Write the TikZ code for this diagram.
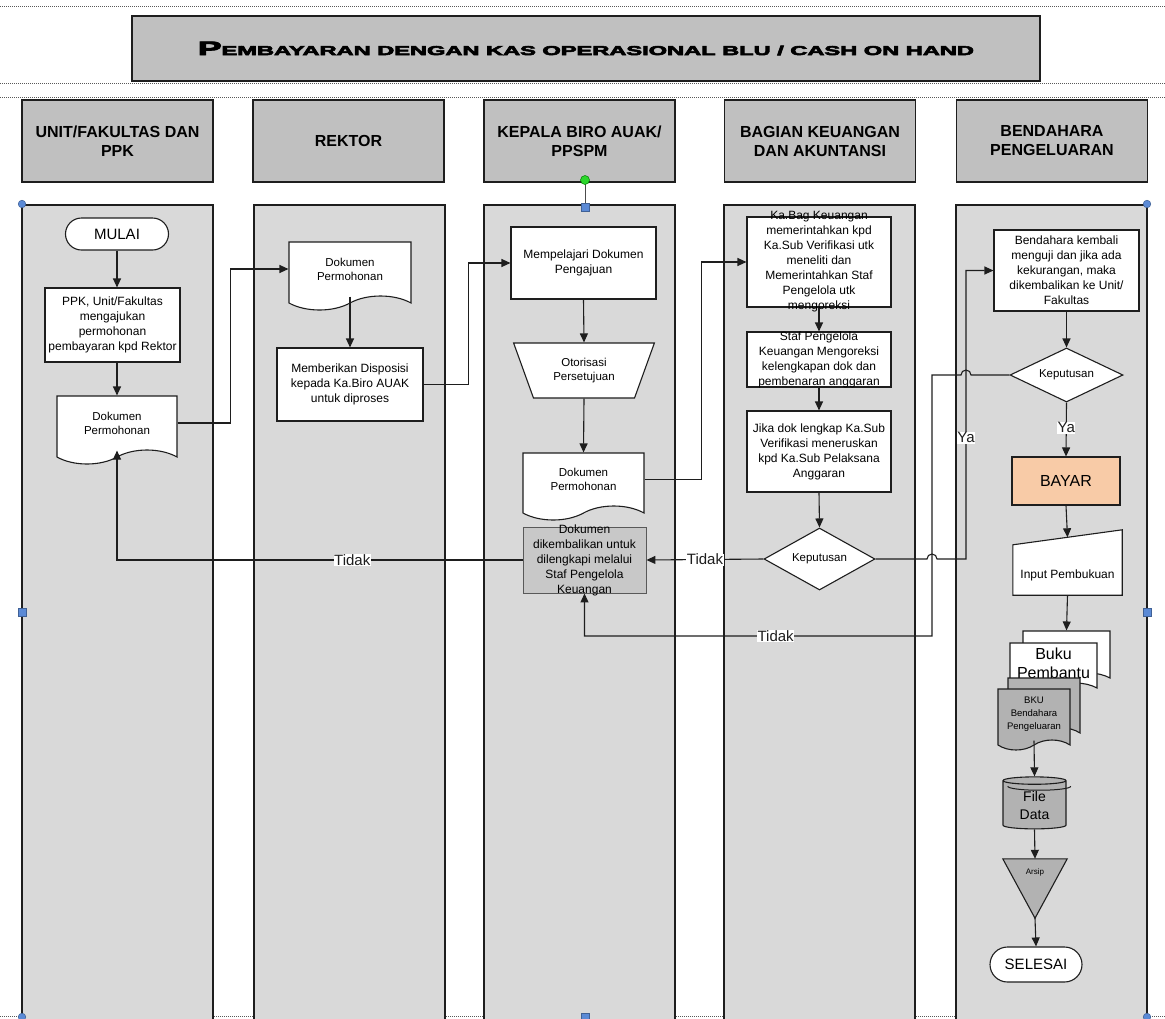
\documentclass[tikz,border=0pt]{standalone}
\usepackage{graphicx}
\usepackage{fontspec}
\setmainfont{Liberation Sans}
\newfontfamily\titlefont{Liberation Sans Bold}[FakeBold=4]
\usetikzlibrary{
  arrows.meta,
  calc,
  positioning,
  shapes.geometric,
  shapes.misc,
  shapes.symbols
}
\definecolor{poolGray}{HTML}{D9D9D9}
\definecolor{headGray}{HTML}{C0C0C0}
\definecolor{symGray}{HTML}{B2B2B2}
\definecolor{bayarPeach}{HTML}{F8CBA7}
\definecolor{handleBlue}{HTML}{5B8AD6}
\definecolor{handleGreen}{HTML}{2BD62B}
\definecolor{lineDark}{HTML}{1E1E1E}
\newcommand{\fsz}[2]{\fontsize{#1}{#2}\selectfont}
\tikzset{
  guideDots/.style={gray!70!black, line width=0.8pt, dash pattern=on 1pt off 1pt},
  titleBox/.style={
    draw=lineDark,
    line width=2pt,
    fill=headGray,
    minimum width=908pt,
    minimum height=65pt,
    inner sep=0pt
  },
  laneHead/.style={
    draw=lineDark,
    line width=1.8pt,
    fill=headGray,
    minimum width=191pt,
    minimum height=82pt,
    align=center,
    font=\bfseries\fsz{16}{19},
    inner sep=0pt
  },
  lanePool/.style={draw=lineDark, line width=1.8pt, fill=poolGray},
  procBox/.style={
    draw=lineDark,
    line width=1.1pt,
    fill=white,
    align=center,
    font=\fsz{12}{15},
    inner sep=1pt
  },
  procText/.style={align=center, font=\fsz{12}{15}, inner sep=0pt},
  docShape/.style={
    tape,
    tape bend top=none,
    tape bend bottom=in and out,
    tape bend height=14pt,
    draw=lineDark,
    line width=1.1pt,
    fill=white,
    align=center,
    font=\fsz{11.5}{14},
    inner sep=1pt
  },
  termShape/.style={
    rounded rectangle,
    draw=lineDark,
    line width=1.1pt,
    fill=white,
    font=\fsz{15}{17},
    inner sep=1pt
  },
  decShape/.style={
    diamond,
    aspect=2,
    draw=lineDark,
    line width=1.1pt,
    fill=white,
    font=\fsz{11.5}{13},
    inner sep=0pt
  },
  ghostBox/.style={draw=none, fill=none, inner sep=0pt},
  flowArrow/.style={-{Triangle[length=9pt, width=8pt]}, line width=1.1pt, lineDark},
  flowLabel/.style={fill=white, inner sep=0.5pt, font=\fsz{15}{17}},
  handleDot/.style={fill=handleBlue, draw=handleBlue!70!black, line width=0.5pt}
}

\begin{document}
\begin{tikzpicture}[x=1pt,y=-1pt]
  \useasboundingbox (0,0) rectangle (1165,1018);
  % dotted guides
  \foreach \y in {6,83,97,1016} {
    \draw[guideDots] (0,\y) -- (1165,\y);
  }

  % title
  \node[titleBox] (judul) at (586,48.5)
    {\resizebox{776pt}{\height}{\titlefont\fsz{19.5}{20}P\fsz{13}{14}EMBAYARAN DENGAN KAS OPERASIONAL BLU / CASH ON HAND}};

  % lane headers
  \node[laneHead] (hUnit) at (117.5,141) {UNIT/FAKULTAS DAN\\PPK};
  \node[laneHead] (hRektor) at (348.5,141) {REKTOR};
  \node[laneHead] (hBiro) at (579.5,141) {KEPALA BIRO AUAK/\\PPSPM};
  \node[laneHead] (hKeu) at (820,141) {BAGIAN KEUANGAN\\DAN AKUNTANSI};
  \node[laneHead] (hBend) at (1052,141) {BENDAHARA\\PENGELUARAN};

  % pools
  \foreach \x in {22,254,484,724,956} {
    \draw[lanePool] (\x,205) rectangle ++(191,830);
  }

  % unit / fakultas
  \node[termShape, minimum width=105pt, minimum height=32pt] (mulai) at (117,234) {MULAI};
  \node[procBox, minimum width=135pt, minimum height=74pt] (ajukan) at (112.5,325)
    {PPK, Unit/Fakultas\\mengajukan\\permohonan\\pembayaran kpd Rektor};
  \node[docShape, minimum width=120pt, minimum height=68pt] (dokUnit) at (117,423) {Dokumen\\Permohonan};

  % rektor
  \node[docShape, minimum width=122pt, minimum height=68pt] (dokRektor) at (350,269) {Dokumen\\Permohonan};
  \node[procBox, minimum width=146pt, minimum height=73pt] (disposisi) at (350,384.5)
    {Memberikan Disposisi\\kepada Ka.Biro AUAK\\untuk diproses};

  % kepala biro
  \node[procBox, minimum width=145pt, minimum height=72pt] (pelajari) at (583.5,263)
    {Mempelajari Dokumen\\Pengajuan};
  \node[trapezium, trapezium left angle=64, trapezium right angle=64, shape border rotate=180,
    trapezium stretches=true, minimum width=142pt, minimum height=55pt,
    draw=lineDark, line width=1.1pt, fill=white, align=center, font=\fsz{11.5}{14}, inner sep=0pt]
    (otorisasi) at (584,370.5) {Otorisasi\\Persetujuan};
  \node[docShape, minimum width=121pt, minimum height=67pt] (dokBiro) at (583.5,479.5) {Dokumen\\Permohonan};
  \node[procBox, draw=gray!70!black, line width=0.9pt, fill=poolGray!92!black,
    minimum width=123pt, minimum height=66pt,
    label={[procText]center:Dokumen\\dikembalikan untuk\\dilengkapi melalui\\Staf Pengelola\\Keuangan}]
    (kembali) at (584.5,560) {};

  % bagian keuangan
  \node[procBox, minimum width=144pt, minimum height=90pt,
    label={[procText]center:Ka.Bag Keuangan\\memerintahkan kpd\\Ka.Sub Verifikasi utk\\meneliti dan\\Memerintahkan Staf\\Pengelola utk\\mengoreksi}]
    (kabag) at (819,262) {};
  \node[procBox, minimum width=144pt, minimum height=55pt,
    label={[procText]center:Staf Pengelola\\Keuangan Mengoreksi\\kelengkapan dok dan\\pembenaran anggaran}]
    (koreksi) at (819,359.5) {};
  \node[procBox, minimum width=144pt, minimum height=81pt] (jika) at (819,451.5)
    {Jika dok lengkap Ka.Sub\\Verifikasi meneruskan\\kpd Ka.Sub Pelaksana\\Anggaran};
  \node[decShape, minimum width=111pt, minimum height=62pt] (kep1) at (819.5,559) {Keputusan};

  % bendahara
  \node[procBox, minimum width=145pt, minimum height=81pt] (kembaliB) at (1066.5,270.5)
    {Bendahara kembali\\menguji dan jika ada\\kekurangan, maka\\dikembalikan ke Unit/\\Fakultas};
  \node[decShape, minimum width=113pt, minimum height=54pt] (kep2) at (1066.5,375) {Keputusan};
  \node[procBox, fill=bayarPeach, minimum width=108pt, minimum height=48pt, font=\fsz{16}{18}]
    (bayar) at (1066,481) {BAYAR};
  \node[ghostBox, minimum width=109pt, minimum height=65pt] (input) at (1067.5,562.5) {};
  \filldraw[draw=lineDark, line width=1.1pt, fill=white]
    (input.south west) -- ([yshift=-15pt]input.north west) -- (input.north east)
    -- (input.south east) -- cycle;
  \node[procText] (inputTxt) at ([yshift=-13pt]input.center) {Input Pembukuan};
  \node[docShape, tape bend height=10pt, minimum width=87pt, minimum height=52pt] (bukuB) at (1066.5,652) {};
  \node[docShape, tape bend height=10pt, minimum width=87pt, minimum height=50pt, font=\fsz{16}{19}]
    (bukuA) at (1053.5,663) {Buku\\Pembantu};
  \node[docShape, tape bend height=10pt, fill=symGray, minimum width=72pt, minimum height=60pt] (bkuB) at (1044,703) {};
  \node[docShape, tape bend height=10pt, fill=symGray, minimum width=72pt, minimum height=61pt, font=\fsz{9.5}{13}]
    (bkuA) at (1034,714.5) {BKU\\Bendahara\\Pengeluaran};
  \node[cylinder, shape border rotate=90, aspect=0.25, draw=lineDark, line width=1.1pt,
    fill=symGray, minimum width=63pt, minimum height=52pt, align=center, font=\fsz{14}{18}, inner sep=0pt]
    (fileData) at (1034.5,805) {File\\Data};
  \draw[lineDark, line width=1pt] ($(fileData.north west)+(0,8)$)
    arc[start angle=180, end angle=0, x radius=31.5, y radius=4];
  \node[ghostBox, minimum width=64pt, minimum height=59pt] (arsip) at (1035,888.5) {};
  \filldraw[draw=lineDark, line width=1.1pt, fill=symGray]
    (arsip.north west) -- (arsip.north east) -- (arsip.south) -- cycle;
  \node[font=\fsz{8}{9}, inner sep=0pt] (arsipTxt) at ([yshift=-14pt]arsip.north) {Arsip};
  \node[termShape, minimum width=94pt, minimum height=35pt] (selesai) at (1036,964.5) {SELESAI};

  % jump columns
  \coordinate (yaX) at (966,0);
  \coordinate (tidakX) at (932,0);
  \coordinate (tidakY) at (0,636);

  % flow
  \draw[flowArrow] (mulai.south) -- (mulai.south |- ajukan.north);
  \draw[flowArrow] (ajukan.south -| dokUnit.north) -- (dokUnit.north);
  \draw[flowArrow] (dokUnit.east) -- ++(53,0) |- (dokRektor.west);
  \draw[flowArrow] (dokRektor.south) -- (disposisi.north);
  \draw[flowArrow] (disposisi.east) -- ++(45,0) |- (pelajari.west);
  \draw[flowArrow] (pelajari.south) -- (otorisasi.north);
  \draw[flowArrow] (otorisasi.south) -- (dokBiro.north);
  \draw[flowArrow] (dokBiro.east) -- ++(57,0) |- (kabag.west);
  \draw[flowArrow] (kabag.south) -- (koreksi.north);
  \draw[flowArrow] (koreksi.south) -- (jika.north);
  \draw[flowArrow] (jika.south) -- (kep1.north);
  \draw[flowArrow] (kep1.west) -- node[flowLabel] {Tidak} (kembali.east);
  \draw[flowArrow] (kembali.west) -| node[flowLabel, pos=0.21] {Tidak} (dokUnit.south);
  \draw[flowArrow] (kep1.east) -- ($(kep1.east -| tidakX)+(-5,0)$)
    arc[start angle=180, end angle=360, radius=5]
    -- (kep1.east -| yaX) -- node[flowLabel, pos=0.42] {Ya} (kembaliB.west -| yaX) -- (kembaliB.west);
  \draw[flowArrow] (kembaliB.south) -- (kep2.north);
  \draw[flowArrow] (kep2.west) -- ($(kep2.west -| yaX)+(5,0)$)
    arc[start angle=0, end angle=-180, radius=5]
    -- (kep2.west -| tidakX) -- (tidakX |- tidakY)
    -- node[flowLabel, pos=0.45] {Tidak} (kembali.south |- tidakY) -- (kembali.south);
  \draw[flowArrow] (kep2.south) -- node[flowLabel, pos=0.47] {Ya} (bayar.north);
  \draw[flowArrow] (bayar.south) -- ([yshift=-7.5pt]input.north);
  \draw[flowArrow] (input.south) -- (bukuB.north);
  \draw[flowArrow] (bkuA.south) -- (fileData.north);
  \draw[flowArrow] (fileData.south) -- (arsip.north);
  \draw[flowArrow] (arsip.south) -- (selesai.north);

  % selection handles
  \draw[gray!60!black, line width=1pt] (585,180) -- (585,207);
  \filldraw[fill=handleGreen, draw=green!50!black, line width=0.5pt] (585,180) circle (4.5);
  \foreach \p in {(22,204),(1147,204),(22,1017),(1147,1017)} {
    \filldraw[handleDot] \p circle (3.8);
  }
  \foreach \p in {(22,612),(1147,612),(585,207),(585,1017)} {
    \filldraw[handleDot] \p ++(-4,-4) rectangle ++(8,8);
  }
\end{tikzpicture}
\end{document}
